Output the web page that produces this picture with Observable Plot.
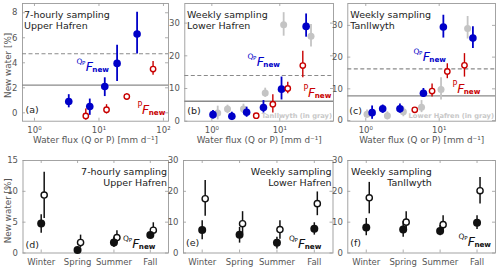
<!DOCTYPE html>
<html><head><meta charset="utf-8">
<script src="https://cdn.jsdelivr.net/npm/d3@7"></script>
<script src="https://cdn.jsdelivr.net/npm/@observablehq/plot@0.6"></script>
<style>
html,body{margin:0;padding:0;background:#fff;}
#chart{position:relative;width:500px;height:271px;overflow:hidden;}
#chart svg{position:absolute;left:0;top:0;}
</style></head><body><div id="chart"></div>
<script>
// ---------- data ----------
// Upper Hafren, 7-hourly
const uhQx  = [3.4, 7.2, 12.3, 19.1, 39];
const uhQy  = [0.9, 0.5, 2.1, 3.95, 6.3];
const uhQlo = [0.4, -0.2, 1.3, 2.5, 4.7];
const uhQhi = [1.45, 1.1, 2.8, 5.4, 8.05];
const uhPx  = [6.25, 13.1, 27, 69];
const uhPy  = [-0.25, 0.25, 1.3, 3.5];
const uhPlo = [-0.6, -0.1, 1.05, 3.0];
const uhPhi = [0.3, 0.65, 1.55, 4.1];
const uhRef = [2.21, 4.72]; // solid, dashed
// Lower Hafren, weekly
const lhQx  = [1.04, 1.97, 3.25, 5.75, 10.6, 24.4];
const lhQy  = [2.0, 1.5, 2.75, 4.2, 9.8, 29];
const lhQlo = [0.7, 0.2, 1.2, 2.5, 6.5, 25.7];
const lhQhi = [3.3, 2.75, 4.3, 6.3, 13.5, 32.8];
const lhPx  = [4.5, 7.9, 13.1, 21.8];
const lhPy  = [1.7, 5.2, 10.0, 17.0];
const lhPlo = [1.3, 2.5, 8.4, 13.3];
const lhPhi = [2.1, 8.1, 11.9, 21.4];
const lhRef = [6.1, 14.0];
// Tanllwyth, weekly
const twQx  = [1.22, 1.7, 2.92, 6.1, 11.4, 28.8];
const twQy  = [2.5, 3.7, 3.7, 8.6, 29.5, 26.0];
const twQlo = [0.4, 2.3, 2.4, 7.3, 26.0, 22.7];
const twQhi = [4.6, 4.9, 5.2, 10.1, 33.2, 29.6];
const twPx  = [4.65, 8.0, 12.9, 22.1];
const twPy  = [3.4, 9.3, 15.5, 17.4];
const twPlo = [2.8, 7.4, 13.2, 13.7];
const twPhi = [4.0, 11.5, 17.9, 21.1];
const twRef = [7.8, 16.3];
// Seasonal
const seasons = ["Winter", "Spring", "Summer", "Fall"];
const seasonX = [1, 2, 3, 4];
const uhSQ = [4.8, 0.5, 1.7, 2.9],  uhSQlo = [3.2, 0.1, 0.9, 2.4],  uhSQhi = [6.2, 0.9, 2.5, 3.3];
const uhSP = [9.4, 1.7, 2.5, 3.7],  uhSPlo = [5.6, 0.9, 1.6, 2.8],  uhSPhi = [13.1, 2.9, 3.6, 4.9];
const lhSQ = [7.5, 5.9, 3.3, 7.9],  lhSQlo = [4.3, 3.2, 1.3, 5.8],  lhSQhi = [10.5, 8.3, 5.1, 9.8];
const lhSP = [17.6, 9.5, 7.6, 16.0], lhSPlo = [11.9, 6.2, 4.5, 12.1], lhSPhi = [23.5, 13.4, 10.5, 19.8];
const twSQ = [8.3, 7.6, 7.1, 9.8],  twSQlo = [5.6, 5.1, 5.6, 7.6],  twSQhi = [11.2, 10.2, 8.9, 12.1];
const twSP = [17.9, 10.0, 9.2, 20.2], twSPlo = [12.7, 7.2, 6.7, 15.9], twSPhi = [22.9, 13.4, 12.1, 24.5];

// ---------- helpers ----------
const FONT = "DejaVu Sans";
const BLUE = "#0000c8", RED = "#c80000", GRAY = "#c4c4c4";
const rows = (xs, ys, lo, hi) => xs.map((x, i) => ({x, y: ys[i], lo: lo[i], hi: hi[i]}));
const sup = {0: "\u2070", 1: "\u00b9", 2: "\u00b2"};

function frameTicks(xt, yt, w, h) {
  const s = {stroke: "#999", strokeWidth: 0.8};
  return [
    Plot.ruleX(xt, {...s, insetTop: h - 3}),
    Plot.ruleX(xt, {...s, insetBottom: h - 3}),
    Plot.ruleY(yt, {...s, insetRight: w - 3}),
    Plot.ruleY(yt, {...s, insetLeft: w - 3}),
    Plot.frame({stroke: "#9a9a9a", strokeWidth: 0.9})
  ];
}
function qLabel(pos, color) {
  const b = {x: "x", y: "y", textAnchor: "start", lineAnchor: "bottom", fill: color, fontFamily: FONT};
  return [
    Plot.text([pos], {...b, text: () => "Q", fontSize: 7.5, dy: -7}),
    Plot.text([pos], {...b, text: () => "P", fontSize: 5.5, dx: 5.6, dy: -5.5}),
    Plot.text([pos], {...b, text: () => "F", fontSize: 12.5, fontStyle: "italic", dx: 9.2}),
    Plot.text([pos], {...b, text: () => "new", fontSize: 7.2, fontWeight: "bold", dx: 15.8, dy: 1})
  ];
}
function pLabel(pos, color) {
  const b = {x: "x", y: "y", textAnchor: "start", lineAnchor: "bottom", fill: color, fontFamily: FONT};
  return [
    Plot.text([pos], {...b, text: () => "P", fontSize: 8, dy: -6}),
    Plot.text([pos], {...b, text: () => "F", fontSize: 12.5, fontStyle: "italic", dx: 4.6}),
    Plot.text([pos], {...b, text: () => "new", fontSize: 7.2, fontWeight: "bold", dx: 11.2, dy: 1})
  ];
}
function errDots(data, {color, r, open = false, sw = 1.8, dx = 0}) {
  return [
    Plot.ruleX(data, {x: "x", y1: "lo", y2: "hi", stroke: color, strokeWidth: sw, dx}),
    open
      ? Plot.dot(data, {x: "x", y: "y", r, fill: "white", stroke: color, strokeWidth: 1.4, dx})
      : Plot.dot(data, {x: "x", y: "y", r, fill: color, dx})
  ];
}
function panel(box, x, y, marks) {
  const {L, R, T, B} = box;
  return Plot.plot({
    width: 500, height: 271,
    marginLeft: L, marginRight: 500 - R, marginTop: T, marginBottom: 271 - B,
    style: {fontFamily: FONT, fontSize: "8.5px", color: "#555", background: "transparent", overflow: "visible"},
    x: {...x, tickSize: 0, tickPadding: 5.5, label: null},
    y: {...y, tickSize: 0, tickPadding: 5, label: null},
    marks: [...frameTicks(x.ticks, y.ticks, R - L, B - T), ...marks]
  });
}
const logFmt = d => "10" + sup[Math.round(Math.log10(d))];
const textTL = (s, dx, dy, anchor = "start", fa = "top-left") =>
  Plot.text([s], {frameAnchor: fa, textAnchor: anchor, lineAnchor: "top", dx, dy, fontSize: 9.5, lineHeight: 1.15, fill: "#222", fontFamily: FONT});
const tag = (s, dx, dy) => Plot.text([s], {frameAnchor: "bottom-left", textAnchor: "start", dx, dy, fontSize: 9.5, fill: "#222", fontFamily: FONT});
const xTitle = () => Plot.text(["Water flux (Q or P) [mm d\u207b\u00b9]"], {frameAnchor: "bottom", textAnchor: "middle", dy: 21.5, fontSize: 8.8, fill: "#555", fontFamily: FONT});
const yTitle = (L, dy) => Plot.text(["New water [%]"], {frameAnchor: "left", textAnchor: "middle", rotate: -90, dx: -(L - 8), dy, fontSize: 8.8, fill: "#555", fontFamily: FONT});
const grayNote = s => Plot.text([s], {frameAnchor: "bottom-right", textAnchor: "end", dx: -1.5, dy: -3.5, fontSize: 6.7, fontWeight: "bold", fill: "#c8c8c8", fontFamily: FONT});
const refLines = ref => [
  Plot.ruleY([ref[1]], {stroke: "#8a8a8a", strokeWidth: 1.1, strokeDasharray: "4,2.5"}),
  Plot.ruleY([ref[0]], {stroke: "#8a8a8a", strokeWidth: 1.3})
];

const chart = document.getElementById("chart");
const add = svg => chart.appendChild(svg);

// ---------- top row ----------
const boxA = {L: 22, R: 168, T: 3, B: 120.7};
const boxB = {L: 184.3, R: 333, T: 3, B: 120.7};
const boxC = {L: 347.3, R: 495, T: 3, B: 120.7};

add(panel(boxA,
  {type: "log", domain: [0.652, 119.7], ticks: [1, 10, 100], tickFormat: logFmt},
  {domain: [-0.67, 8.74], ticks: [0, 2, 4, 6, 8]},
  [
    ...refLines(uhRef),
    ...errDots(rows(uhQx, uhQy, uhQlo, uhQhi), {color: BLUE, r: 3.8}),
    ...errDots(rows(uhPx, uhPy, uhPlo, uhPhi), {color: RED, r: 2.7, open: true, sw: 1.4}),
    ...qLabel({x: 4.48, y: 3.38}, BLUE),
    ...pLabel({x: 39.5, y: -0.06}, RED),
    textTL("7-hourly sampling\nUpper Hafren", 1.5, 7),
    tag("(a)", 3, -8.5),
    xTitle(), yTitle(boxA.L, 3)
  ]));

add(panel(boxB,
  {type: "log", domain: [0.40, 61.7], ticks: [1, 10], tickFormat: logFmt},
  {domain: [0, 36], ticks: [0, 10, 20, 30]},
  [
    ...refLines(lhRef),
    ...errDots(rows(twQx, twQy, twQlo, twQhi), {color: GRAY, r: 3.5}),
    ...errDots(rows(lhQx, lhQy, lhQlo, lhQhi), {color: BLUE, r: 3.8}),
    ...errDots(rows(lhPx, lhPy, lhPlo, lhPhi), {color: RED, r: 2.7, open: true, sw: 1.4}),
    ...qLabel({x: 3.35, y: 17.0}, BLUE),
    ...pLabel({x: 22.3, y: 7.25}, RED),
    textTL("Weekly sampling\nLower Hafren", 2.2, 7),
    tag("(b)", 2.5, -7.7),
    grayNote("Tanllwyth (in gray)"),
    xTitle()
  ]));

add(panel(boxC,
  {type: "log", domain: [0.569, 58.5], ticks: [1, 10], tickFormat: logFmt},
  {domain: [-0.2, 36.9], ticks: [0, 10, 20, 30]},
  [
    ...refLines(twRef),
    ...errDots(rows(lhQx, lhQy, lhQlo, lhQhi), {color: GRAY, r: 3.5}),
    ...errDots(rows(twQx, twQy, twQlo, twQhi), {color: BLUE, r: 3.8}),
    ...errDots(rows(twPx, twPy, twPlo, twPhi), {color: RED, r: 2.7, open: true, sw: 1.4}),
    ...qLabel({x: 4.47, y: 18.9}, BLUE),
    ...pLabel({x: 15.2, y: 8.8}, RED),
    textTL("Weekly sampling\nTanllwyth", 2.5, 7),
    tag("(c)", 1.5, -7.7),
    grayNote("Lower Hafren (in gray)"),
    xTitle()
  ]));

// ---------- bottom row ----------
const boxD = {L: 22.5, R: 168, T: 160, B: 252.5};
const boxE = {L: 183, R: 332.5, T: 160, B: 252.5};
const boxF = {L: 347.3, R: 495, T: 160, B: 252.5};
const sx = {domain: [0.5, 4.5], ticks: seasonX, tickFormat: d => seasons[d - 1]};

function seasonal(Q, Qlo, Qhi, P, Plo, Phi) {
  return [
    ...errDots(rows(seasonX, P, Plo, Phi), {color: "#111", r: 3.1, open: true, sw: 1.5, dx: 3}),
    ...errDots(rows(seasonX, Q, Qlo, Qhi), {color: "#111", r: 4, sw: 1.5})
  ];
}

add(panel(boxD, sx, {domain: [0, 15], ticks: [0, 5, 10, 15]}, [
  ...seasonal(uhSQ, uhSQlo, uhSQhi, uhSP, uhSPlo, uhSPhi),
  ...qLabel({x: 3.25, y: 0.86}, "#111"),
  textTL("7-hourly sampling\nUpper Hafren", -1.5, 6.5, "end", "top-right"),
  tag("(d)", 2.5, -5.5),
  yTitle(boxD.L, 4)
]));
add(panel(boxE, sx, {domain: [0, 30], ticks: [0, 10, 20, 30]}, [
  ...seasonal(lhSQ, lhSQlo, lhSQhi, lhSP, lhSPlo, lhSPhi),
  ...qLabel({x: 3.32, y: 1.7}, "#111"),
  textTL("Weekly sampling\nLower Hafren", -1.5, 6.5, "end", "top-right"),
  tag("(e)", 2.5, -7)
]));
add(panel(boxF, sx, {domain: [0, 30], ticks: [0, 10, 20, 30]}, [
  ...seasonal(twSQ, twSQlo, twSQhi, twSP, twSPlo, twSPhi),
  ...qLabel({x: 3.5, y: 2.4}, "#111"),
  textTL("Weekly sampling\nTanllwyth", 84, 6.5, "end", "top-left"),
  tag("(f)", 2.5, -7)
]));
</script></body></html>
